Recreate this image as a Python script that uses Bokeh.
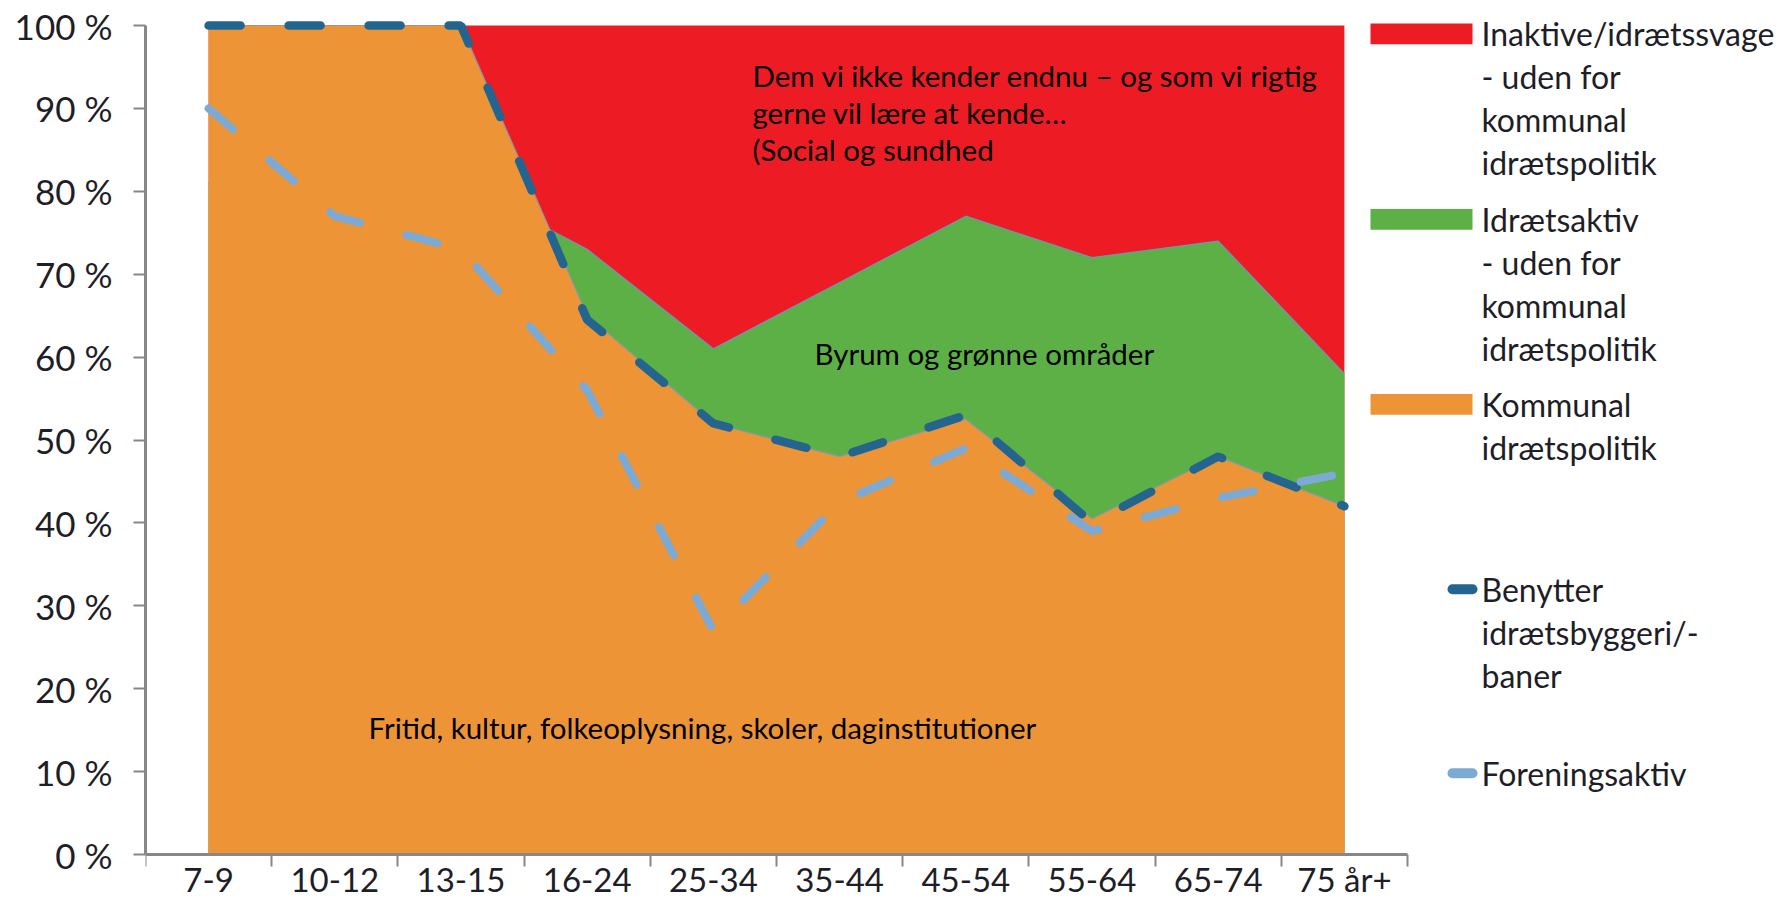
from bokeh.plotting import figure
from bokeh.models import Range1d, FixedTicker
from bokeh.core.properties import value
from bokeh.embed import file_html
from bokeh.resources import INLINE

# ---------------- data ----------------
age_groups = ["7-9", "10-12", "13-15", "16-24", "25-34", "35-44", "45-54", "55-64", "65-74", "75 år+"]
inaktive = [100, 100, 100, 100, 100, 100, 100, 100, 100, 100]
idraetsaktiv = [81, 81, 81, 73, 61, 69, 77, 72, 74, 58]
kommunal = [100, 100, 100, 65, 52, 48, 52.5, 40.5, 48, 42]
benytter = [100, 100, 100, 64.5, 52, 48, 53, 40, 48, 42]
foreningsaktiv = [90, 77, 73, 56, 27, 42.5, 49, 39, 43, 46]

y_ticks = [0, 10, 20, 30, 40, 50, 60, 70, 80, 90, 100]
y_tick_labels = ["0 %", "10 %", "20 %", "30 %", "40 %", "50 %", "60 %", "70 %", "80 %", "90 %", "100 %"]

area_names = [
    ["Inaktive/idrætssvage", "- uden for", "kommunal", "idrætspolitik"],
    ["Idrætsaktiv", "- uden for", "kommunal", "idrætspolitik"],
    ["Kommunal", "idrætspolitik"],
]
line_names = [
    ["Benytter", "idrætsbyggeri/-", "baner"],
    ["Foreningsaktiv"],
]
note_top = ["Dem vi ikke kender endnu – og som vi rigtig", "gerne vil lære at kende…", "(Social og sundhed"]
note_mid = "Byrum og grønne områder"
note_low = "Fritid, kultur, folkeoplysning, skoler, daginstitutioner"

# ---------------- style ----------------
RED = "#ED1C24"
GREEN = "#5DB046"
ORANGE = "#ED9436"
DARK = "#246590"
LIGHT = "#7CAAD5"
AXIS = "#878787"
TXT = "#1E1E28"
FONT = "Lato"

n = len(age_groups)
xs = [i + 0.5 for i in range(n)]

PX_X = 126.2          # pixels per category
PX_Y = 8.29           # pixels per percent
LEFT = 145
TOP = 13
FRAME_W = 1776 - LEFT
FRAME_H = 901 - TOP
Y_TOP = 100 + 12 / PX_Y

p = figure(
    frame_width=FRAME_W, frame_height=FRAME_H,
    x_range=Range1d(0, FRAME_W / PX_X),
    y_range=Range1d(Y_TOP - FRAME_H / PX_Y, Y_TOP),
    min_border_left=LEFT, min_border_right=0, min_border_top=TOP, min_border_bottom=0,
    output_backend="svg", toolbar_location=None, title=None,
)
p.outline_line_color = None
p.grid.visible = False
p.background_fill_color = "white"
p.border_fill_color = "white"

def fx(px):
    return (px - LEFT) / PX_X

# areas (overlapping, drawn back to front)
p.varea(x=xs, y1=0, y2=inaktive, fill_color=RED)
p.varea(x=xs, y1=0, y2=idraetsaktiv, fill_color=GREEN)
p.line(x=xs, y=idraetsaktiv, line_color="#6F93BD", line_width=1.2)
p.varea(x=xs, y1=0, y2=kommunal, fill_color=ORANGE)
p.line(x=xs, y=kommunal, line_color="#8C98A8", line_width=1.2)

# dashed lines
p.line(x=xs, y=benytter, line_color=DARK, line_width=8.5, line_dash="32 48", line_cap="round")
p.line(x=xs, y=foreningsaktiv, line_color=LIGHT, line_width=8, line_dash="32 48", line_cap="round")

# annotations inside plot
NOTE_SIZE = "29.5px"
for i, t in enumerate(note_top):
    p.text(x=[fx(752)], y=[94.0 - i * 4.5], text=[t], text_font=value(FONT), text_font_size=NOTE_SIZE,
           text_color="black", text_baseline="middle", text_align="left")
p.text(x=[fx(814)], y=[60.4], text=[note_mid], text_font=value(FONT), text_font_size=NOTE_SIZE,
       text_color="black", text_baseline="middle", text_align="left")
p.text(x=[fx(368)], y=[15.3], text=[note_low], text_font=value(FONT), text_font_size=NOTE_SIZE,
       text_color="black", text_baseline="middle", text_align="left")

# legend (manual)
LEG_SIZE = "32px"
LINE_STEP = 43 / PX_Y
txt_x = fx(1481)
area_tops = [99.0, 76.6, 54.3]
for col, top, names in zip([RED, GREEN, ORANGE], area_tops, area_names):
    p.quad(left=[fx(1370)], right=[fx(1472)], top=[top + 1.25], bottom=[top - 1.25], fill_color=col, line_color=None)
    for j, t in enumerate(names):
        p.text(x=[txt_x], y=[top - j * LINE_STEP], text=[t], text_font=value(FONT), text_font_size=LEG_SIZE,
               text_color=TXT, text_baseline="middle", text_align="left")
line_tops = [32.0, 9.8]
for col, top, names in zip([DARK, LIGHT], line_tops, line_names):
    p.segment(x0=[fx(1452)], y0=[top], x1=[fx(1472)], y1=[top], line_color=col, line_width=10, line_cap="round")
    for j, t in enumerate(names):
        p.text(x=[txt_x], y=[top - j * LINE_STEP], text=[t], text_font=value(FONT), text_font_size=LEG_SIZE,
               text_color=TXT, text_baseline="middle", text_align="left")

# y axis
yax = p.yaxis[0]
yax.ticker = FixedTicker(ticks=y_ticks)
yax.major_label_overrides = {t: l for t, l in zip(y_ticks, y_tick_labels)}
yax.bounds = (0, 100)
yax.axis_line_color = AXIS
yax.axis_line_width = 3
yax.major_tick_line_color = AXIS
yax.major_tick_line_width = 2
yax.major_tick_out = 12
yax.major_tick_in = 0
yax.minor_tick_line_color = None
yax.major_label_standoff = 21
yax.major_label_text_font = FONT
yax.major_label_text_font_size = "35px"
yax.major_label_text_color = TXT

# x axis pinned at 0
xax = p.xaxis[0]
xax.fixed_location = 0
xax.ticker = FixedTicker(ticks=xs, minor_ticks=list(range(n + 1)))
xax.major_label_overrides = {x: l for x, l in zip(xs, age_groups)}
xax.bounds = (0, n)
xax.axis_line_color = AXIS
xax.axis_line_width = 3
xax.major_tick_line_color = None
xax.major_tick_out = 0
xax.major_tick_in = 0
xax.minor_tick_line_color = AXIS
xax.minor_tick_line_width = 2
xax.minor_tick_out = 12
xax.minor_tick_in = 0
xax.major_label_standoff = -8
xax.major_label_text_font = FONT
xax.major_label_text_font_size = "33px"
xax.major_label_text_color = TXT

open("out.html", "w").write(file_html(p, INLINE))
